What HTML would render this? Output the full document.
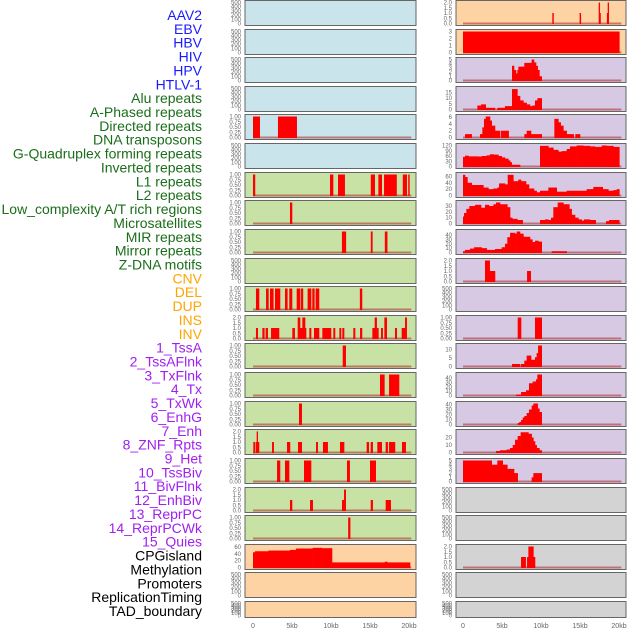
<!DOCTYPE html>
<html><head><meta charset="utf-8"><style>
html,body{margin:0;padding:0;background:#fff;width:630px;height:630px;overflow:hidden}
svg{display:block}
</style></head><body>
<svg id="chart" width="630" height="630" viewBox="0 0 630 630" xmlns="http://www.w3.org/2000/svg" font-family="Liberation Sans, sans-serif"></svg>
<script>
const labels = ["AAV2","EBV","HBV","HIV","HPV","HTLV-1","Alu repeats","A-Phased repeats","Directed repeats","DNA transposons","G-Quadruplex forming repeats","Inverted repeats","L1 repeats","L2 repeats","Low_complexity A/T rich regions","Microsatellites","MIR repeats","Mirror repeats","Z-DNA motifs","CNV","DEL","DUP","INS","INV","1_TssA","2_TssAFlnk","3_TxFlnk","4_Tx","5_TxWk","6_EnhG","7_Enh","8_ZNF_Rpts","9_Het","10_TssBiv","11_BivFlnk","12_EnhBiv","13_ReprPC","14_ReprPCWk","15_Quies","CPGisland","Methylation","Promoters","ReplicationTiming","TAD_boundary"];
const labelColors = ["#1a1aff","#1a1aff","#1a1aff","#1a1aff","#1a1aff","#1a1aff","#1a6e1a","#1a6e1a","#1a6e1a","#1a6e1a","#1a6e1a","#1a6e1a","#1a6e1a","#1a6e1a","#1a6e1a","#1a6e1a","#1a6e1a","#1a6e1a","#1a6e1a","#ffa500","#ffa500","#ffa500","#ffa500","#ffa500","#a020f0","#a020f0","#a020f0","#a020f0","#a020f0","#a020f0","#a020f0","#a020f0","#a020f0","#a020f0","#a020f0","#a020f0","#a020f0","#a020f0","#a020f0","#000","#000","#000","#000","#000"];
const xTicks = [0,5,10,15,20];
const xTickLabels = ["0","5kb","10kb","15kb","20kb"];

// right-column data (steps: [startKb, value], last entry closes; segs: [start,end,value])
const R1 = [[11.45,11.6,1],[14.95,15.1,1],[17.4,17.5,2],[17.5,17.6,1],[18.45,18.55,1],[18.55,18.65,2]];
const R2 = [[0,20.04,3]];
const R3 = [[6.28,3.5],[6.54,2.5],[6.79,1.7],[6.97,2.5],[7.09,3.3],[7.65,3.3],[7.86,4.2],[8.59,4.2],[8.8,5],[9.1,4.3],[9.36,3.5],[9.57,2.5],[9.79,1],[10.09,0]];
const R4 = [[1.84,3.5],[2.31,4.5],[2.91,1.5],[4.1,0],[4.4,1.5],[5.38,3],[6.24,0],[6.28,18],[6.97,12],[7.31,8],[7.74,6],[8.16,4.5],[8.59,3],[8.89,3.5],[9.23,8],[9.53,10],[10.09,0]];
const R5 = [[0.26,1],[1.11,0],[2.18,1],[2.48,3],[2.69,5.5],[2.91,6.2],[3.46,5],[3.68,3.5],[4.1,2],[4.74,0],[4.87,2],[5.85,0],[7.86,1],[8.16,2],[8.72,1],[10.09,0],[11.71,5.5],[12.22,4.5],[12.52,3.5],[12.86,2],[13.29,1],[14.19,0],[14.4,1],[15.0,0]];
const R6 = [[0,55],[0.26,62],[0.68,58],[1.97,57],[2.39,60],[3.03,64],[3.46,70],[3.89,68],[4.53,60],[4.96,52],[5.38,45],[5.81,35],[6.03,25],[6.24,10],[7.31,0],[9.87,118],[10.94,108],[11.58,95],[12.22,85],[12.65,88],[13.29,100],[13.72,115],[14.57,120],[15.43,118],[16.28,115],[16.92,112],[17.78,120],[18.42,118],[19.27,112],[20.04,0]];
const R7 = [[0,65],[0.26,58],[0.56,40],[1.11,33],[2.61,25],[3.25,20],[3.89,22],[4.4,25],[4.62,38],[5.38,35],[5.73,65],[6.45,45],[7.09,50],[7.44,45],[8.08,35],[8.46,22],[9.1,15],[9.44,10],[9.87,15],[10.94,25],[12.01,12],[13.29,15],[15.85,20],[16.71,27],[17.91,20],[18.63,15],[19.27,17],[19.7,20],[20.04,0]];
const R8 = [[0,12],[0.13,18],[0.43,25],[0.81,30],[1.54,32],[2.31,27],[2.82,32],[3.33,30],[3.89,33],[4.23,36],[4.74,33],[5.68,28],[6.03,10],[6.32,8],[6.97,6],[7.65,0],[9.87,6],[10.51,7],[10.94,6],[11.28,10],[11.58,28],[12.14,36],[12.86,33],[13.63,25],[13.93,15],[14.36,10],[14.79,7],[15.21,5],[15.51,7],[16.28,6],[17.01,0],[18.33,4],[18.72,6],[20.04,0]];
const R9 = [[0,3],[0.26,6],[0.9,9],[1.41,12],[2.39,10],[3.03,6],[4.1,8],[4.96,12],[5.38,20],[5.68,35],[6.03,45],[6.67,43],[6.88,48],[7.31,43],[7.74,36],[8.59,30],[8.89,24],[9.23,27],[9.66,25],[10.09,0],[11.37,3],[13.29,0]];
const R10 = [[2.82,2],[3.42,1],[4.1,0],[8.21,1],[8.68,0]];
const R12 = [[7.01,7.44,1],[9.23,10.09,1]];
const R13 = [[6.28,1.5],[7.31,0],[7.44,1.5],[7.86,3.5],[8.16,6.5],[8.72,4],[9.23,5.5],[9.44,8],[9.62,12.5],[10.09,0]];
const R14 = [[6.79,2],[7.44,8],[8.08,12],[8.46,28],[8.93,32],[9.36,37],[9.53,48],[10.09,0]];
const R15 = [[7.01,3],[7.22,5],[7.44,9],[7.65,14],[7.86,17],[8.16,23],[8.46,30],[8.8,38],[9.02,42],[9.57,32],[9.79,25],[10.09,0]];
const R16 = [[4.23,2],[4.74,3],[5.6,4],[6.03,6],[6.37,10],[6.67,17],[7.01,22],[7.39,27],[8.38,25],[8.8,20],[9.02,15],[9.23,10],[9.44,6],[9.79,3],[10.09,0]];
const R17 = [[0,5],[3.68,4],[4.4,5],[5.09,4],[5.68,3],[6.54,2],[7.01,0],[8.8,1],[9.02,2],[10.09,0]];
const R20 = [[7.44,8.03,1],[8.21,8.38,1],[8.38,9.02,2],[9.02,9.23,1]];

// left-column data
const L5 = [[0,0.86,1],[3.2,5.6,1]];
const L7 = [[0,0.25,1],[9.87,10.26,1],[10.9,11.75,1],[15.1,15.6,1],[16.07,16.5,1],[16.8,18.4,1],[19.2,19.7,1],[19.9,20.05,1]];
const L8 = [[4.74,5.0,1]];
const L9 = [[11.4,11.9,1],[15.1,15.3,1],[16.9,17.2,1]];
const L11 = [[0.38,0.77,1],[1.67,1.97,1],[2.18,2.6,1],[2.82,3.46,1],[4.1,4.4,1],[4.65,5.0,1],[5.6,6.03,1],[6.15,6.4,1],[7.0,7.44,1],[7.6,7.86,1],[8.03,8.46,1],[13.7,13.97,1]];
const L12 = [[0.38,0.6,1],[1.2,1.45,1],[1.62,1.88,1],[2.31,3.33,1],[5.04,5.34,1],[5.73,6.03,2],[6.03,6.32,1],[6.32,6.67,2],[6.67,6.79,1],[7.22,7.44,1],[7.82,8.46,1],[8.89,9.36,1],[9.36,10.0,1],[10.3,10.51,1],[11.07,11.28,1],[11.45,11.67,1],[12.86,13.08,1],[13.72,13.97,1],[15.3,15.6,1],[15.6,15.85,2],[15.85,16.07,1],[16.41,16.62,1],[16.84,17.14,2],[18.2,18.42,1],[19.06,19.49,1],[19.49,19.7,2]];
const L13 = [[11.5,11.88,1]];
const L14 = [[16.28,16.84,1],[17.44,18.72,1]];
const L15 = [[5.9,6.24,1]];
const L16 = [[0.04,0.26,1],[0.38,0.47,1],[0.47,0.6,2],[0.6,0.77,1],[2.44,2.65,1],[4.36,4.74,1],[5.77,6.24,1],[8.08,8.29,1],[8.97,9.57,1],[11.15,11.67,1],[14.57,14.83,1],[15.09,15.34,1],[15.94,16.5,1],[17.01,17.26,1],[17.44,18.2,1],[19.1,19.57,1]];
const L17 = [[3.08,3.46,1],[4.1,4.62,1],[6.54,7.44,1],[12.05,12.39,1],[15.0,15.73,1]];
const L18 = [[4.74,5.0,1],[7.31,7.65,1],[11.41,11.67,1],[11.67,11.88,2],[15.09,15.34,1],[17.01,17.65,1]];
const L19 = [[12.2,12.45,1]];
const L20 = [[0,45],[0.26,48],[1.97,50],[4.74,52],[5.51,56],[7.65,58],[8.8,57],[10.13,15],[16.9,17],[17.2,15],[20.13,0]];

const T500 = {ticks:[0,100,200,300,400,500],lab:["0","100","200","300","400","500"],max:500};
const TB1 = {ticks:[0,0.25,0.5,0.75,1],lab:["0.00","0.25","0.50","0.75","1.00"],max:1};
const TB2 = {ticks:[0,0.5,1,1.5,2],lab:["0.0","0.5","1.0","1.5","2.0"],max:2};
function T(ticks,max){return {ticks:ticks,lab:ticks.map(String),max:max};}

const BLUE="#c9e4ea",GREEN="#c8e2a6",PEACH="#fed3a3",PURP="#d7c9e4",GRAY="#d3d3d3";
const leftPanels = [
 [BLUE,T500,null],[BLUE,T500,null],[BLUE,T500,null],[BLUE,T500,null],[BLUE,TB1,L5,'s'],[BLUE,T500,null],
 [GREEN,TB1,L7,'s'],[GREEN,TB1,L8,'s'],[GREEN,TB1,L9,'s'],[GREEN,T500,null],[GREEN,TB1,L11,'s'],[GREEN,TB2,L12,'s'],
 [GREEN,TB1,L13,'s'],[GREEN,TB1,L14,'s'],[GREEN,TB1,L15,'s'],[GREEN,TB2,L16,'s'],[GREEN,TB1,L17,'s'],[GREEN,TB2,L18,'s'],[GREEN,TB1,L19,'s'],
 [PEACH,T([0,20,40,60],62),L20,'p'],[PEACH,T500,null],[PEACH,T500,null]];
const rightPanels = [
 [PEACH,TB2,R1,'s'],[PEACH,T([0,1,2,3],3),R2,'s'],[PURP,T([0,1,2,3,4,5],5),R3,'p'],[PURP,T([0,5,10,15],18.5),R4,'p'],
 [PURP,T([0,2,4,6],6.2),R5,'p'],[PURP,T([0,30,60,90,120],120),R6,'p'],[PURP,T([0,20,40,60],66),R7,'p'],[PURP,T([0,10,20,30],36),R8,'p'],
 [PURP,T([0,10,20,30,40],48),R9,'p'],[PURP,TB2,R10,'p'],[PURP,T500,null],[PURP,TB1,R12,'s'],
 [PURP,T([0,5,10],12.5),R13,'p'],[PURP,T([0,10,20,30,40],48),R14,'p'],[PURP,T([0,10,20,30,40],42),R15,'p'],[PURP,T([0,10,20],28),R16,'p'],
 [PURP,T([0,1,2,3,4,5],5),R17,'p'],[GRAY,T500,null],[GRAY,T500,null],[GRAY,TB2,R20,'s'],[GRAY,T500,null],[GRAY,T500,null]];

const NS="http://www.w3.org/2000/svg";
const svg=document.getElementById('chart');
function mk(tag,attrs,parent){const e=document.createElementNS(NS,tag);for(const k in attrs)e.setAttribute(k,attrs[k]);(parent||svg).appendChild(e);return e;}

labels.forEach((t,i)=>{
  const e=mk('text',{x:202,y:(20+13.86*i).toFixed(1),'text-anchor':'end','font-size':'14',fill:labelColors[i]});
  e.textContent=t;
  
  
});

const cols=[{x:245,w:171,x0:253,tx:241,name:'left'},{x:456,w:170,x0:463,tx:452,name:'right'}];
function xs(c,kb){return c.x0+kb*7.8;}

function drawPanel(c,row,p){
  const top=Math.round(row*28.62), h=row===21?16:25;
  const g=mk('g',{});
  
  
  mk('rect',{x:c.x,y:top+0.5,width:c.w,height:h,fill:p[0],stroke:'#666','stroke-width':1},g);
  const y0=top+h-1.5, y1=top+2.5, ax=p[1];
  const ys=v=>y0-v/ax.max*(y0-y1);
  ax.ticks.forEach((t,k)=>{
    const e=mk('text',{x:c.tx,y:ys(t)+2,'text-anchor':'end','font-size':'6',fill:'#666'},g);
    e.textContent=ax.lab[k];
    
    
  });
  const d=p[2]; if(!d) return;
  mk('rect',{x:xs(c,0),y:y0-1,width:20.3*7.8,height:2,fill:'rgba(170,40,40,0.55)'},g);
  const segs=[];
  if(p[3]==='s'){d.forEach(s=>segs.push(s));}
  else{for(let k=0;k<d.length-1;k++){if(d[k][1]>0)segs.push([d[k][0],d[k+1][0],d[k][1]]);}}
  segs.forEach(s=>{
    const xa=xs(c,s[0]), xb=Math.max(xs(c,s[1]),xa+1);
    const r=mk('rect',{x:xa.toFixed(2),y:ys(s[2]).toFixed(2),width:(xb-xa+0.3).toFixed(2),height:(y0-ys(s[2])+0.5).toFixed(2),fill:'#ff0000'},g);
    
    
  });
}
leftPanels.forEach((p,i)=>drawPanel(cols[0],i,p));
rightPanels.forEach((p,i)=>drawPanel(cols[1],i,p));

cols.forEach(c=>{
  xTicks.forEach((t,k)=>{
    const e=mk('text',{x:xs(c,t),y:628,'text-anchor':'middle','font-size':'7',fill:'#666'});
    e.textContent=xTickLabels[k];
    
    
  });
});
</script>
</body></html>
